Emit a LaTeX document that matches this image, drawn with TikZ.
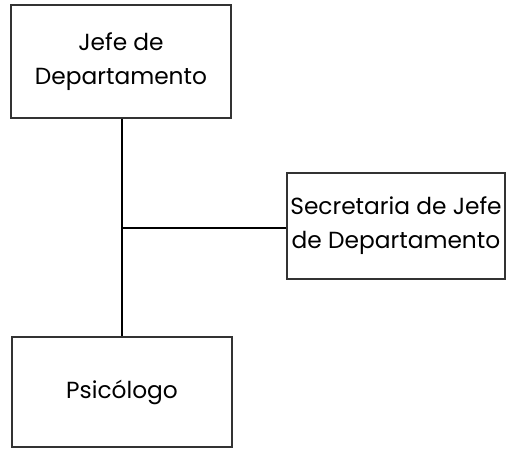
\documentclass[tikz,border=0pt]{standalone}
\usepackage{fontspec}
\setmainfont{Poppins}
\begin{document}
\begin{tikzpicture}[x=1pt,y=-1pt,
  orgbox/.style={draw=black!80, line width=1.1pt, inner sep=0pt, align=center, font=\fontsize{23.3}{34}\selectfont},
  link/.style={line width=2.6pt, black}]
\useasboundingbox (0,0) rectangle (506,448);
\node[orgbox, minimum width=220pt, minimum height=113pt] (jefe) at (121,61.5) {Jefe de\\Departamento};
\node[orgbox, minimum width=218pt, minimum height=106pt] (sec) at (396,226) {Secretaria de Jefe\\de Departamento};
\node[orgbox, minimum width=220pt, minimum height=110pt] (psi) at (122,392) {Psicólogo};
\coordinate (j) at (122,228);
\draw[link] (jefe.south -| j) -- (psi.north -| j);
\draw[link] (j) -- (sec.west |- j);
\end{tikzpicture}
\end{document}
